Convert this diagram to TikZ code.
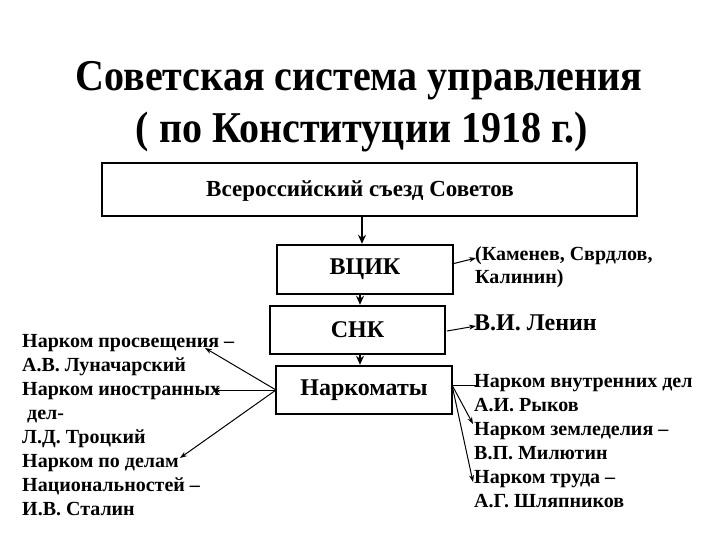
\documentclass[tikz,border=0pt]{standalone}
\usepackage{fontspec}
\setmainfont{Liberation Serif}
\usetikzlibrary{arrows.meta}
\tikzset{
  box/.style={draw, line width=2.4pt, inner sep=0pt, font=\bfseries\fontsize{24}{28}\selectfont},
  ln/.style={anchor=base west, inner sep=0pt, font=\bfseries\fontsize{20}{24}\selectfont},
  arr/.style={-{Stealth[length=7pt,width=5pt]}, line width=1pt},
  bigarr/.style={-{Stealth[length=9pt,width=8pt]}, line width=2pt},
  ttl/.style={anchor=base, inner sep=0pt, xscale=0.91, font=\bfseries\fontsize{44}{50}\selectfont},
}
\begin{document}
\begin{tikzpicture}[x=1pt,y=-1pt]
\useasboundingbox (0,0) rectangle (720,540);
\node[ttl] (t1) at (359,91) {Советская система управления};
\node[ttl] (t2) at (362,143) {( по Конституции 1918 г.)};
\node[box, minimum width=535pt, minimum height=53pt] (top) at (369.5,189.5) {};
\node[inner sep=0pt, font=\bfseries\fontsize{23}{26}\selectfont] (toptext) at (360,191) {Всероссийский съезд Советов};
\node[box, minimum width=176pt, minimum height=49pt] (vcik) at (365,269.5) {ВЦИК};
\node[box, minimum width=175pt, minimum height=48pt] (snk) at (357.5,330) {СНК};
\node[box, minimum width=176pt, minimum height=48pt] (nark) at (364,390) {Наркоматы};
\draw[bigarr] (top.south -| 362,0) -- (vcik.north -| 362,0);
\draw[bigarr] (vcik.south -| 360,0) -- (snk.north -| 360,0);
\draw[bigarr] (snk.south -| 360,0) -- (nark.north -| 360,0);
% right of VCIK
\node[ln] (r1) at (475,260) {(Каменев, Сврдлов,};
\node[ln] (r2) at (475,283) {Калинин)};
\node[ln, font=\bfseries\fontsize{24}{28}\selectfont] (lenin) at (474,330) {В.И. Ленин};
% right list
\node[ln] (n1) at (474,387) {Нарком внутренних дел};
\node[ln] (n2) at (474,411) {А.И. Рыков};
\node[ln] (n3) at (474,435) {Нарком земледелия –};
\node[ln] (n4) at (474,459) {В.П. Милютин};
\node[ln] (n5) at (474,483) {Нарком труда –};
\node[ln] (n6) at (474,507) {А.Г. Шляпников};
% left list
\node[ln] (l1) at (22,347) {Нарком просвещения –};
\node[ln] (l2) at (22,371) {А.В. Луначарский};
\node[ln] (l3) at (22,395) {Нарком иностранных};
\node[ln] (l4) at (27,419) {дел-};
\node[ln] (l5) at (22,443) {Л.Д. Троцкий};
\node[ln] (l6) at (22,467) {Нарком по делам};
\node[ln] (l7) at (22,491) {Национальностей –};
\node[ln] (l8) at (22,515) {И.В. Сталин};
% connectors
\coordinate (v1) at (452,264);
\coordinate (v2) at (476,258);
\draw[arr] (v1) -- (v2);
\coordinate (s1) at (447,331);
\coordinate (s2) at (476,326);
\draw[arr] (s1) -- (s2);
\coordinate (k0) at (452,385);
\coordinate (k1) at (477,385);
\coordinate (k3) at (473,424);
\coordinate (k5) at (473,482);
\draw[line width=1pt] (k0) -- (k1);
\draw[arr] (k0) -- (k3);
\draw[arr] (k0) -- (k5);
\coordinate (m0) at (276,390);
\coordinate (m1) at (205,348);
\coordinate (m2) at (213,390);
\coordinate (m3) at (180,458);
\draw[arr] (m0) -- (m1);
\draw[arr] (m0) -- (m2);
\draw[arr] (m0) -- (m3);
\end{tikzpicture}
\end{document}
